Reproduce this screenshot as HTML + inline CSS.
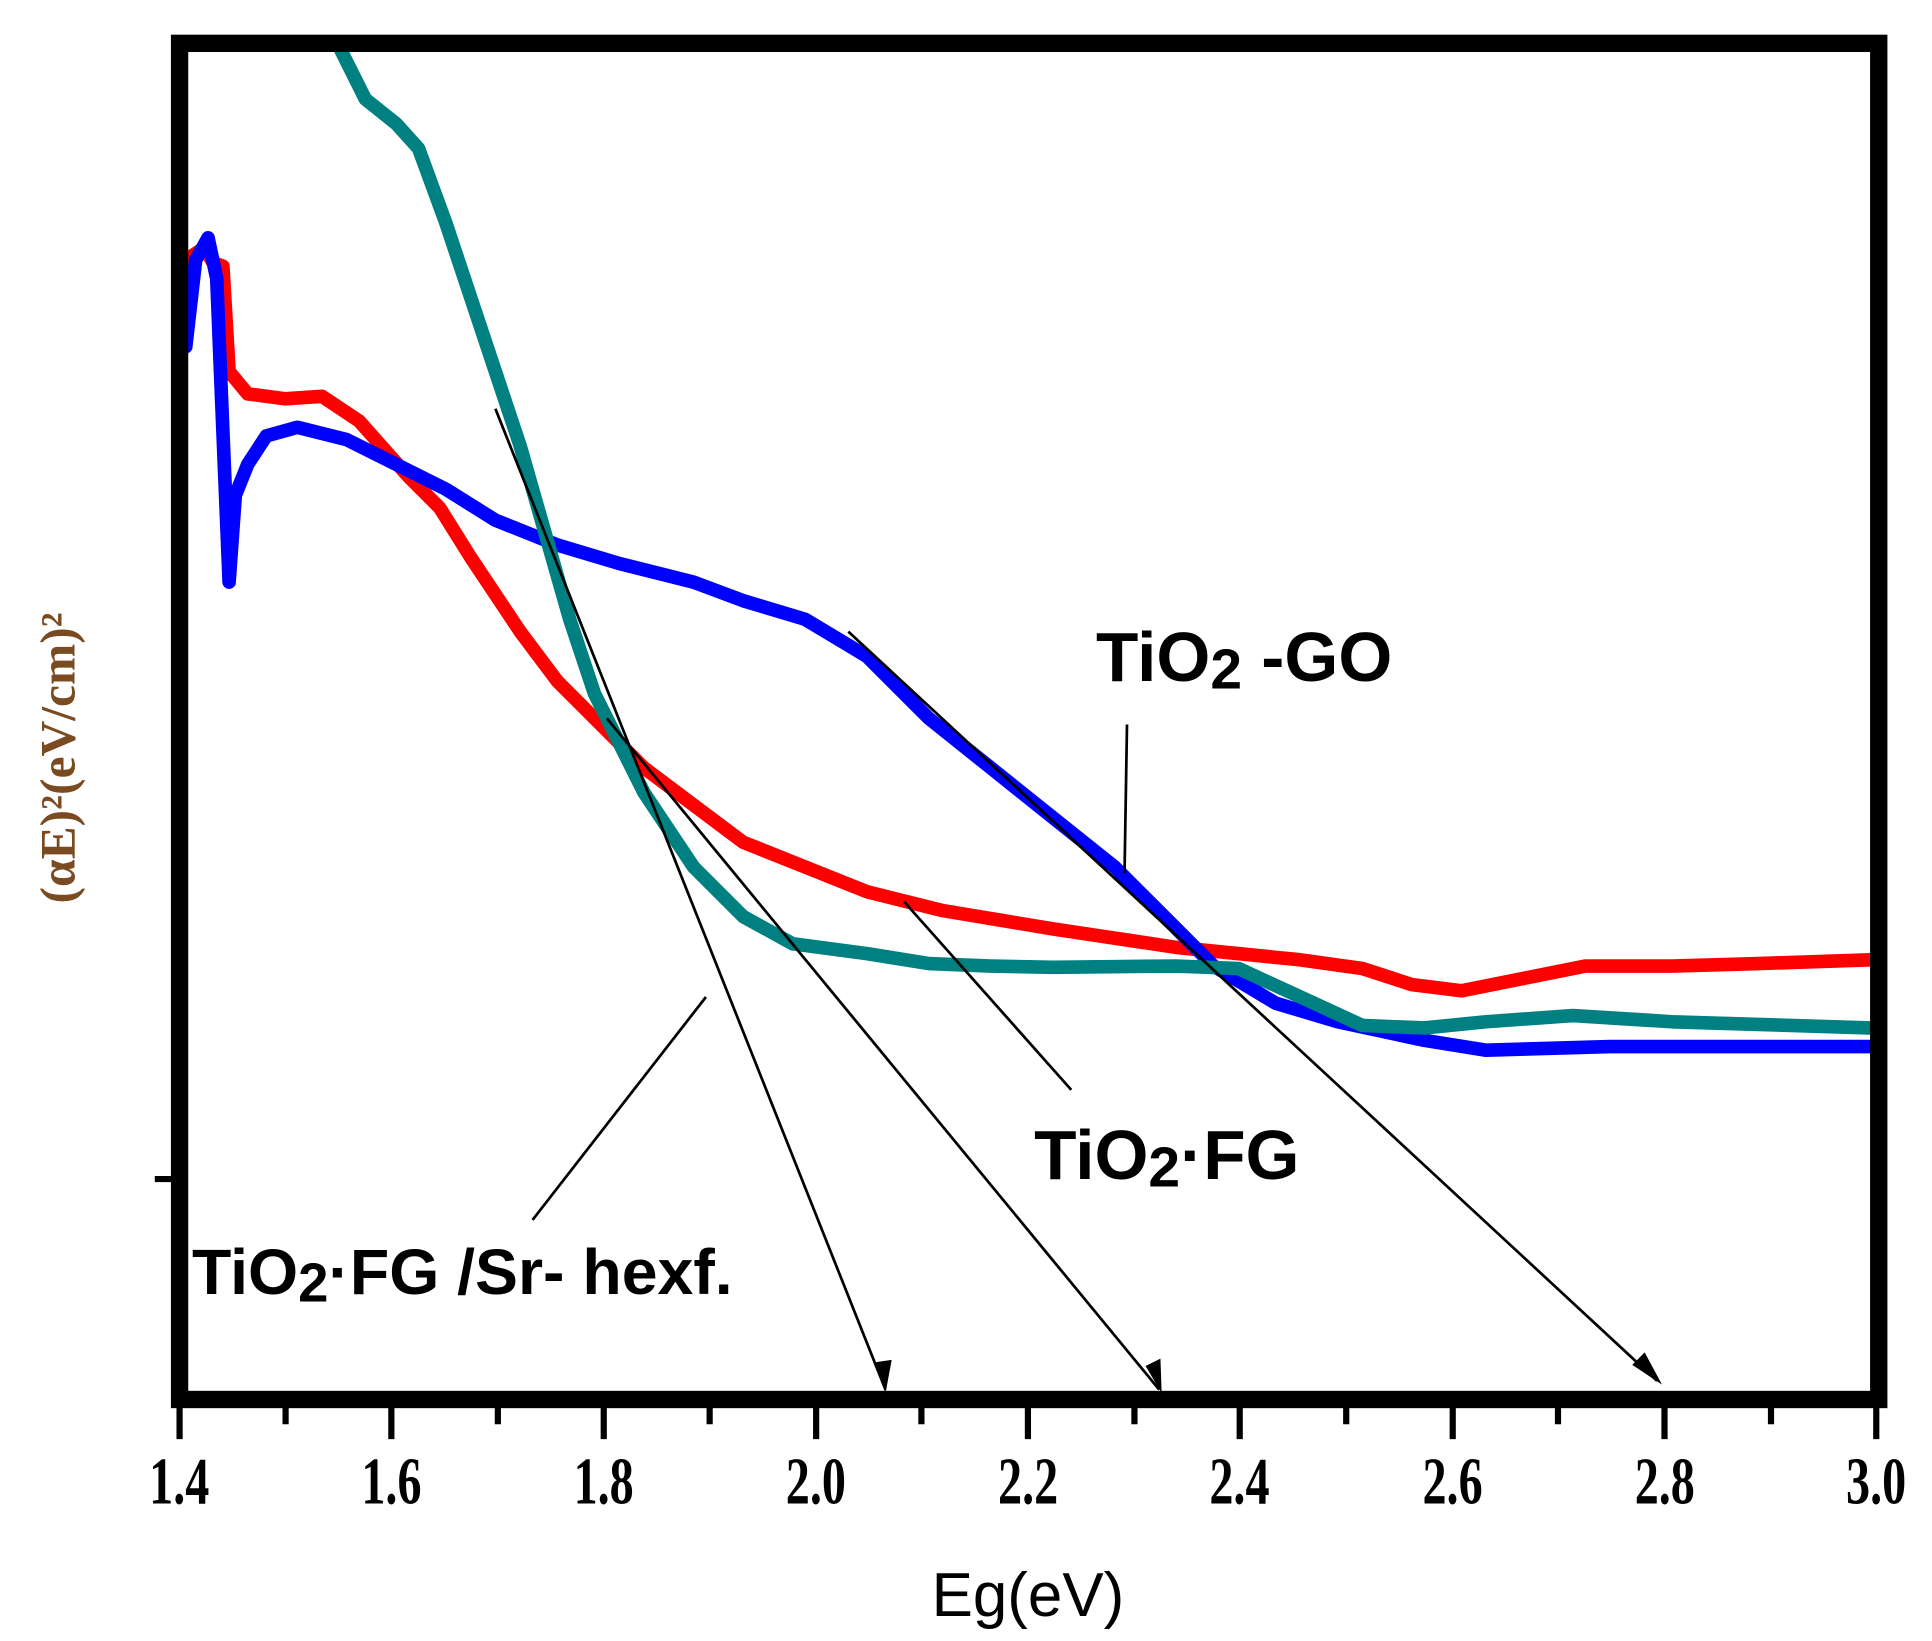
<!DOCTYPE html>
<html><head><style>html,body{margin:0;padding:0;background:#fff;overflow:hidden}svg{display:block}</style></head>
<body>
<svg width="1932" height="1641" viewBox="0 0 1560 1325" preserveAspectRatio="none" xmlns="http://www.w3.org/2000/svg">
<rect width="1560" height="1325" fill="#fff"/>
<g fill="none" stroke-linejoin="round" stroke-linecap="round">
<polyline stroke="#ff0000" stroke-width="11" points="150,210 165,200 172,212 180,215 185,300 200,318 230,322 260,320 290,340 330,385 355,410 380,450 420,510 450,550 480,580 520,620 560,650 600,680 650,700 700,720 760,735 850,750 950,765 1050,775 1100,782 1140,795 1180,800 1230,790 1280,780 1350,780 1420,778 1510,775"/>
<polyline stroke="#0000ff" stroke-width="11" points="150,280 158,210 168,192 175,225 178,300 185,470 190,400 200,375 215,352 240,345 280,355 320,375 360,395 400,420 450,440 500,455 560,470 600,485 650,500 700,530 750,580 800,620 850,660 900,700 950,750 980,780 1030,810 1080,825 1150,840 1200,848 1300,845 1400,845 1510,845"/>
<polyline stroke="#008080" stroke-width="11" points="275,40 295,80 320,100 338,120 360,180 380,240 400,300 420,360 440,430 460,500 480,560 520,640 560,700 600,740 640,762 700,770 750,778 800,780 850,781 950,780 1000,782 1050,805 1100,828 1150,830 1200,825 1270,820 1350,825 1510,830"/>
</g>
<g stroke="#000" stroke-width="2.2" fill="none">
<line x1="400" y1="330" x2="715" y2="1122"/>
<line x1="490" y1="580" x2="936" y2="1122"/>
<line x1="685" y1="510" x2="1338" y2="1115"/>
<line x1="730" y1="728" x2="865" y2="880"/>
<line x1="910" y1="585" x2="908" y2="705"/>
<line x1="430" y1="985" x2="570" y2="805"/>
</g>
<g fill="#000">
<polygon points="715,1125 706,1100 720,1098"/>
<polygon points="938,1125 925,1103 937,1097"/>
<polygon points="1342,1118 1318,1102 1328,1092"/>
</g>
<rect x="145" y="35" width="1372" height="1095" fill="none" stroke="#000" stroke-width="14"/>
<g stroke="#000" stroke-width="5">
<line x1="145" y1="1130" x2="145" y2="1162"/><line x1="230.6" y1="1130" x2="230.6" y2="1150"/>
<line x1="316" y1="1130" x2="316" y2="1162"/><line x1="402" y1="1130" x2="402" y2="1150"/>
<line x1="487.5" y1="1130" x2="487.5" y2="1162"/><line x1="573" y1="1130" x2="573" y2="1150"/>
<line x1="659" y1="1130" x2="659" y2="1162"/><line x1="744" y1="1130" x2="744" y2="1150"/>
<line x1="830" y1="1130" x2="830" y2="1162"/><line x1="916" y1="1130" x2="916" y2="1150"/>
<line x1="1001" y1="1130" x2="1001" y2="1162"/><line x1="1087" y1="1130" x2="1087" y2="1150"/>
<line x1="1173" y1="1130" x2="1173" y2="1162"/><line x1="1258" y1="1130" x2="1258" y2="1150"/>
<line x1="1344" y1="1130" x2="1344" y2="1162"/><line x1="1430" y1="1130" x2="1430" y2="1150"/>
<line x1="1515" y1="1130" x2="1515" y2="1162"/>
<line x1="125" y1="952" x2="145" y2="952"/>
</g>
<g font-family="Liberation Serif, serif" font-weight="bold" font-size="54" text-anchor="middle" fill="#000" transform="scale(0.72,1)">
<text x="201" y="1214">1.4</text><text x="439" y="1214">1.6</text><text x="677" y="1214">1.8</text>
<text x="915" y="1214">2.0</text><text x="1153" y="1214">2.2</text><text x="1390" y="1214">2.4</text>
<text x="1629" y="1214">2.6</text><text x="1867" y="1214">2.8</text><text x="2104" y="1214">3.0</text>
</g>
<text x="830" y="1305" font-family="Liberation Sans, sans-serif" font-size="50" text-anchor="middle" fill="#000">Eg(eV)</text>
<text transform="translate(60,612) rotate(-90)" font-family="Liberation Serif, serif" font-weight="bold" font-size="40" text-anchor="middle" fill="#7a4a20">(αE)²(eV/cm)²</text>
<g font-family="Liberation Sans, sans-serif" font-weight="bold" fill="#000">
<text x="885" y="550" font-size="56">TiO<tspan font-size="46" dy="6">2</tspan><tspan dy="-6"> -GO</tspan></text>
<text x="835" y="952" font-size="56">TiO<tspan font-size="46" dy="6">2</tspan><tspan dy="-6">·FG</tspan></text>
<text x="155" y="1045" font-size="52">TiO<tspan font-size="44" dy="6">2</tspan><tspan dy="-6">·FG /Sr- hexf.</tspan></text>
</g>
</svg>
</body></html>
